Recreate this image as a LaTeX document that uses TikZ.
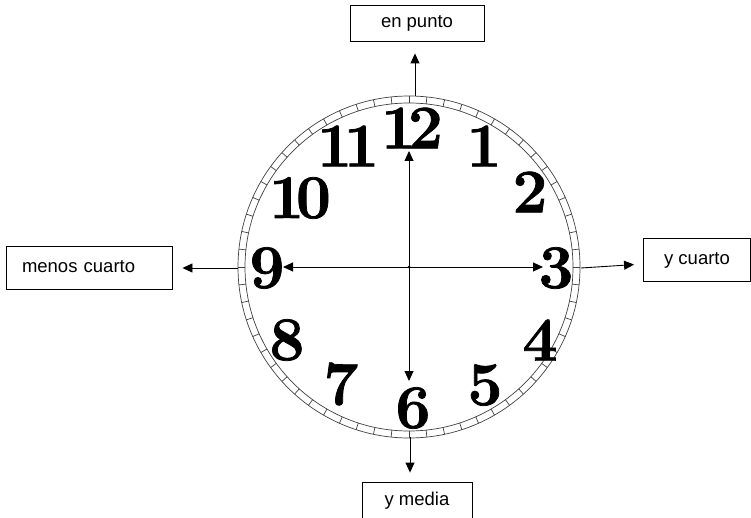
\documentclass[tikz,border=0pt]{standalone}
\usepackage{fontspec}
\setmainfont{Liberation Sans}
\newfontfamily\numfont[BoldFeatures={FakeBold=1.2}]{Latin Modern Roman}
\usetikzlibrary{arrows.meta,calc}
\begin{document}
\begin{tikzpicture}[x=1pt,y=-1pt,
  box/.style={draw,line width=0.9pt,inner sep=0pt,text depth=2pt,font=\fontsize{18.5}{20}\selectfont},
  arr/.style={line width=0.9pt,-{Triangle[length=10pt,width=9pt]}},
  num/.style={inner sep=0pt,font=\numfont\fontsize{62}{62}\selectfont\bfseries},
  rim/.style={line width=0.7pt,draw=black!75}]
\useasboundingbox (0,0) rectangle (751,518);
% clock
\coordinate (c) at (409,267);
\draw[rim] (c) circle[radius=171];
\draw[rim] (c) circle[radius=164];
\foreach \a in {0,6,...,354}{\draw[rim] ($(c)+(\a:164)$) -- ($(c)+(\a:171)$);}
\fill (c) circle[radius=1.5];
% numbers
\node[num] (n12) at (412,128) {1\kern-8pt 2};
\node[num] (n1) at (484,146) {1};
\node[num] (n2) at (530,192) {2};
\node[num] (n3) at (556,268) {3};
\node[num] (n4) at (540,340) {4};
\node[num] (n5) at (485,385) {5};
\node[num] (n6) at (413,408) {6};
\node[num] (n7) at (341,384) {7};
\node[num] (n8) at (287,340) {8};
\node[num] (n9) at (267,268) {9};
\node[num] (n10) at (300,198) {1\kern-8pt 0};
\node[num] (n11) at (348,146) {1\kern-8pt 1};
% inner arrow ends
\coordinate (e12) at (409,151);
\coordinate (e6) at (409,381);
\coordinate (e9) at (283,267);
\coordinate (e3) at (543,267);
\draw[arr] (c) -- (e12);
\draw[arr] (c) -- (e6);
\draw[arr] (c) -- (e9);
\draw[arr] (c) -- (e3);
% boxes
\node[box,minimum width=134pt,minimum height=36pt] (top) at (417,23) {en punto};
\node[box,minimum width=110pt,minimum height=36pt] (bot) at (417,500) {y media};
\node[box,minimum height=43pt,text width=134pt,inner xsep=16pt,align=left] (left) at (89,268) {menos cuarto};
\node[box,minimum width=107pt,minimum height=43pt] (right) at (697,260) {y cuarto};
% outer arrows
\coordinate (r12) at (415,96);
\coordinate (r6) at (410,437);
\coordinate (r9) at (238,268);
\coordinate (r3) at (581,268);
\draw[arr,shorten >=12pt] (r12) -- (r12 |- top.south);
\draw[arr,shorten >=9pt] (r6) -- (r6 |- bot.north);
\draw[arr,shorten >=10pt] (r9) -- (r9 -| left.east);
\draw[arr,shorten >=9pt] (r3) -- ([yshift=-4pt]right.west);
\end{tikzpicture}
\end{document}
